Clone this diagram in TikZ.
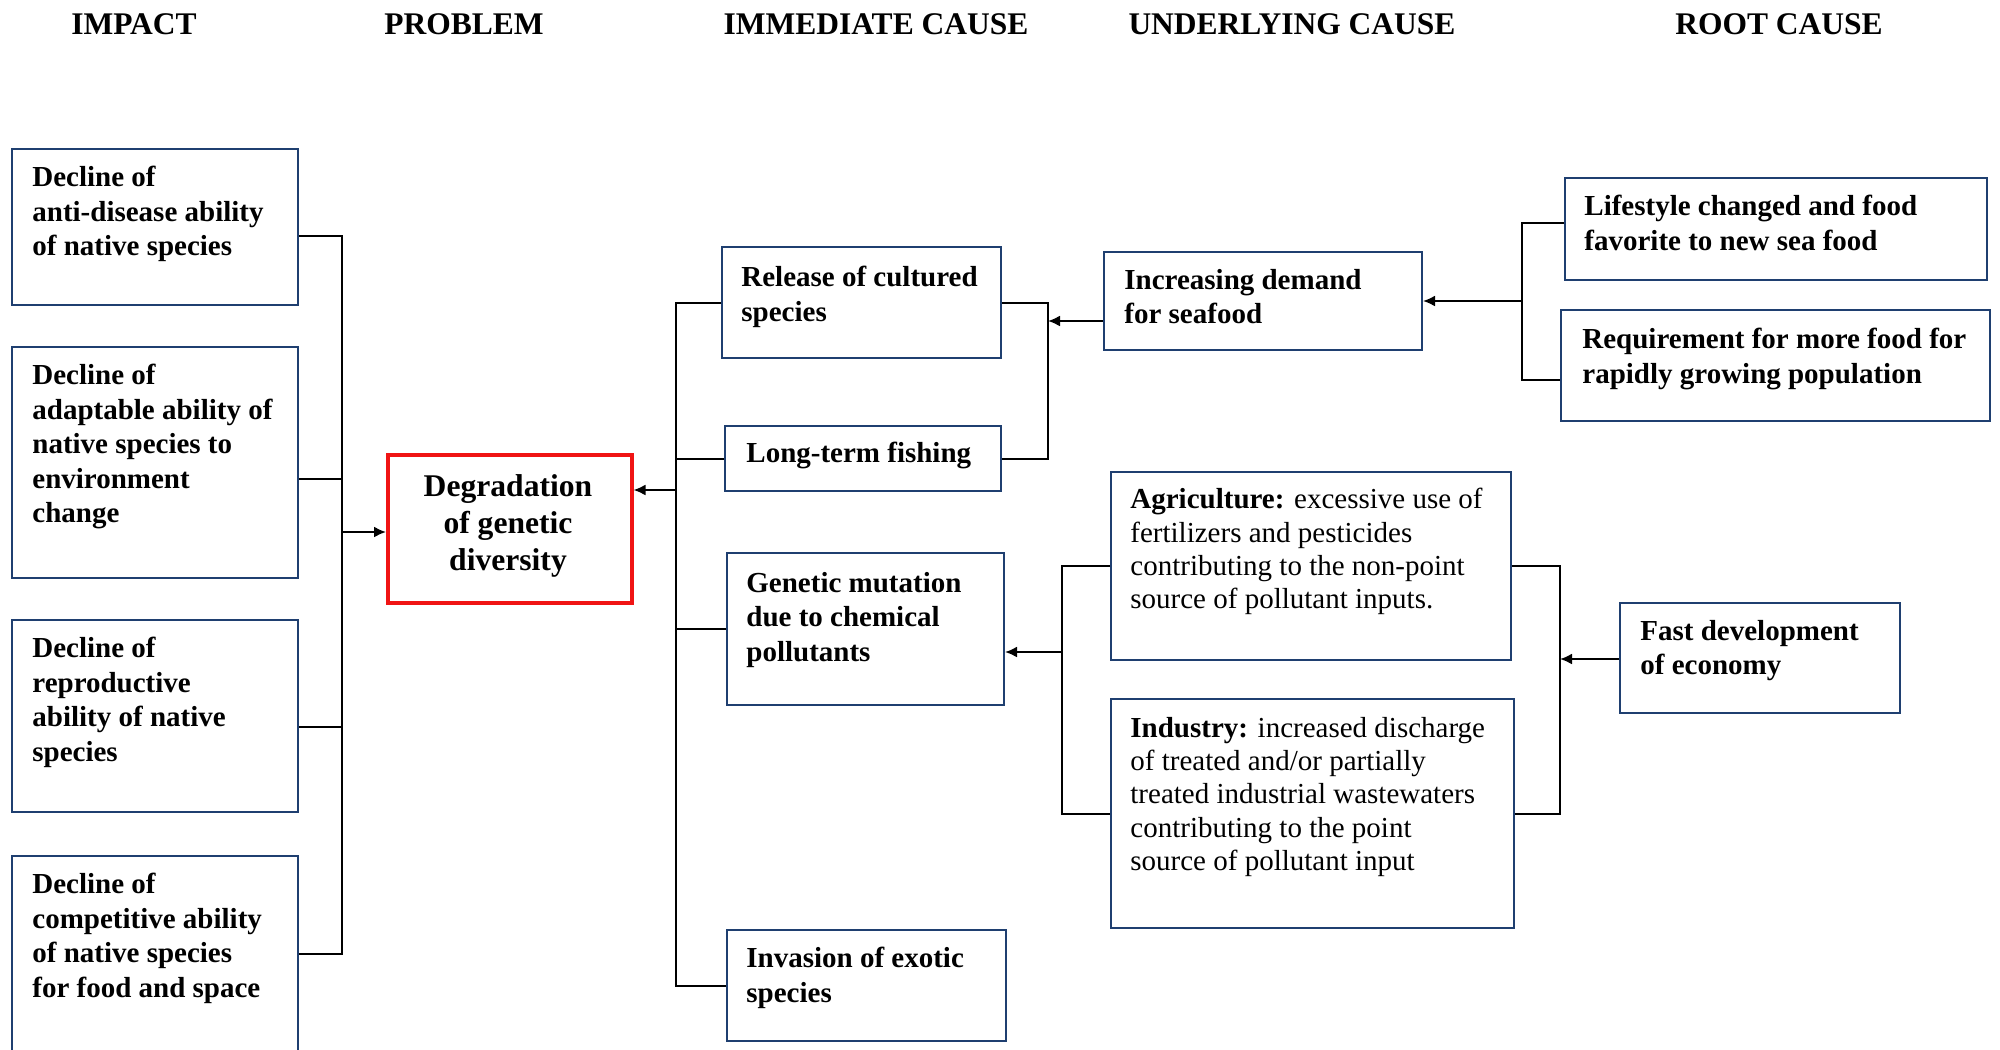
\documentclass[tikz,border=0pt]{standalone}
\usepackage{fontspec}
\setmainfont{Liberation Serif}
\usetikzlibrary{arrows.meta}
\definecolor{boxblue}{RGB}{31,63,112}
\definecolor{probred}{RGB}{240,20,20}
\begin{document}
\begin{tikzpicture}[x=0.5pt,y=-0.5pt,
  head/.style={font=\fontsize{15.75pt}{18pt}\selectfont\bfseries, inner sep=0pt},
  causebox/.style={draw=boxblue, line width=1pt, rectangle, inner sep=0pt, anchor=north west},
  boxtext/.style={anchor=north west, inner sep=0pt, align=left,
    font=\fontsize{14.5pt}{17.2pt}\selectfont\bfseries},
  plaintext/.style={anchor=north west, inner sep=0pt, align=left,
    font=\fontsize{14.5pt}{16.6pt}\selectfont},
  link/.style={line width=1pt, black},
  arrow/.style={link, -{Latex[length=6pt,width=5.5pt]}}
]
\useasboundingbox (0,0) rectangle (2000,1049);

% column headings
\node[head] (hImpact) at (134,24) {IMPACT};
\node[head] (hProblem) at (464,24) {PROBLEM};
\node[head] (hImmediate) at (876,24) {IMMEDIATE CAUSE};
\node[head] (hUnderlying) at (1292,24) {UNDERLYING CAUSE};
\node[head] (hRoot) at (1779,24) {ROOT CAUSE};

% impacts
\node[causebox, minimum width=143pt, minimum height=78pt] (a1) at (11,148) {};
\node[boxtext] (a1t) at (32,166) {Decline of\\anti-disease ability\\of native species};
\node[causebox, minimum width=143pt, minimum height=115.5pt] (a2) at (11,346) {};
\node[boxtext] (a2t) at (32,364) {Decline of\\adaptable ability of\\native species to\\environment\\change};
\node[causebox, minimum width=143pt, minimum height=96pt] (a3) at (11,619) {};
\node[boxtext] (a3t) at (32,637) {Decline of\\reproductive\\ability of native\\species};
\node[causebox, minimum width=143pt, minimum height=98pt] (a4) at (11,855) {};
\node[boxtext] (a4t) at (32,873) {Decline of\\competitive ability\\of native species\\for food and space};

% problem
\node[draw=probred, line width=1.75pt, rectangle, inner sep=0pt, anchor=north west,
  minimum width=122pt, minimum height=74pt] (prob) at (386,453) {};
\node[align=center, inner sep=0pt, font=\fontsize{15.8pt}{18.5pt}\selectfont\bfseries]
  (probt) at (508,526) {Degradation\\of genetic\\diversity};

% immediate causes
\node[causebox, minimum width=139.5pt, minimum height=55.5pt] (rel) at (721,246) {};
\node[boxtext] (relt) at (741,266) {Release of cultured\\species};
\node[causebox, minimum width=138pt, minimum height=32.5pt] (lt) at (724,425) {};
\node[boxtext, anchor=west] (ltt) at (746,455) {Long-term fishing};
\node[causebox, minimum width=138.5pt, minimum height=76pt] (gen) at (726,552) {};
\node[boxtext] (gent) at (746,572) {Genetic mutation\\due to chemical\\pollutants};
\node[causebox, minimum width=139.5pt, minimum height=55.5pt] (inv) at (726,929) {};
\node[boxtext] (invt) at (746,947) {Invasion of exotic\\species};

% underlying causes
\node[causebox, minimum width=159pt, minimum height=49pt] (dem) at (1103,251) {};
\node[boxtext] (demt) at (1124,269) {Increasing demand\\for seafood};
\node[causebox, minimum width=200pt, minimum height=94pt] (agr) at (1110,471) {};
\node[plaintext] (agrt) at (1130,488)
  {\textbf{Agriculture:} excessive use of\\fertilizers and pesticides\\contributing to the non-point\\source of pollutant inputs.};
\node[causebox, minimum width=201.5pt, minimum height=114.5pt] (ind) at (1110,698) {};
\node[plaintext] (indt) at (1130,717)
  {\textbf{Industry:} increased discharge\\of treated and/or partially\\treated industrial wastewaters\\contributing to the point\\source of pollutant input};

% root causes
\node[causebox, minimum width=211pt, minimum height=51pt] (life) at (1564,177) {};
\node[boxtext] (lifet) at (1584,195) {Lifestyle changed and food\\favorite to new sea food};
\node[causebox, minimum width=214.5pt, minimum height=55.5pt] (req) at (1560,309) {};
\node[boxtext] (reqt) at (1582,328) {Requirement for more food for\\rapidly growing population};
\node[causebox, minimum width=140pt, minimum height=55pt] (fast) at (1619,602) {};
\node[boxtext] (fastt) at (1640,620) {Fast development\\of economy};

% junction points of the brackets
\coordinate (jL) at (342,532);
\coordinate (jR) at (676,490);
\coordinate (jD) at (1048,321);
\coordinate (jRt) at (1522,301);
\coordinate (jG) at (1062,652);
\coordinate (jF) at (1560,659);

% impacts <- problem
\draw[link] ([yshift=-4.5pt]a1.east) -| (jL);
\draw[link] ([yshift=-8pt]a2.east) -- ([yshift=-8pt]a2.east -| jL);
\draw[link] ([yshift=-5.5pt]a3.east) -- ([yshift=-5.5pt]a3.east -| jL);
\draw[link] (a4.east) -| (jL);
\draw[arrow] (jL) -- (jL -| prob.west);

% immediate causes -> problem
\draw[link] (rel.west) -| (jR);
\draw[link] (inv.west) -| (jR);
\draw[link] (lt.west) -- (lt.west -| jR);
\draw[link] (gen.west) -- (gen.west -| jR);
\draw[arrow] (jR) -- (jR -| prob.east);

% demand -> release / fishing
\draw[link] (rel.east) -| (jD);
\draw[link] (lt.east) -| (jD);
\draw[arrow] (dem.west |- jD) -- (jD);

% root causes -> demand
\draw[link] ([yshift=3pt]life.west) -| (jRt);
\draw[link] ([yshift=-7pt]req.west) -| (jRt);
\draw[arrow] (jRt) -- (jRt -| dem.east);

% pollution sources -> genetic mutation
\draw[link] (agr.west) -| (jG);
\draw[link] (ind.west) -| (jG);
\draw[arrow] (jG) -- (jG -| gen.east);

% economy -> pollution sources
\draw[link] (agr.east) -| (jF);
\draw[link] (ind.east) -| (jF);
\draw[arrow] (fast.west |- jF) -- (jF);
\end{tikzpicture}
\end{document}
